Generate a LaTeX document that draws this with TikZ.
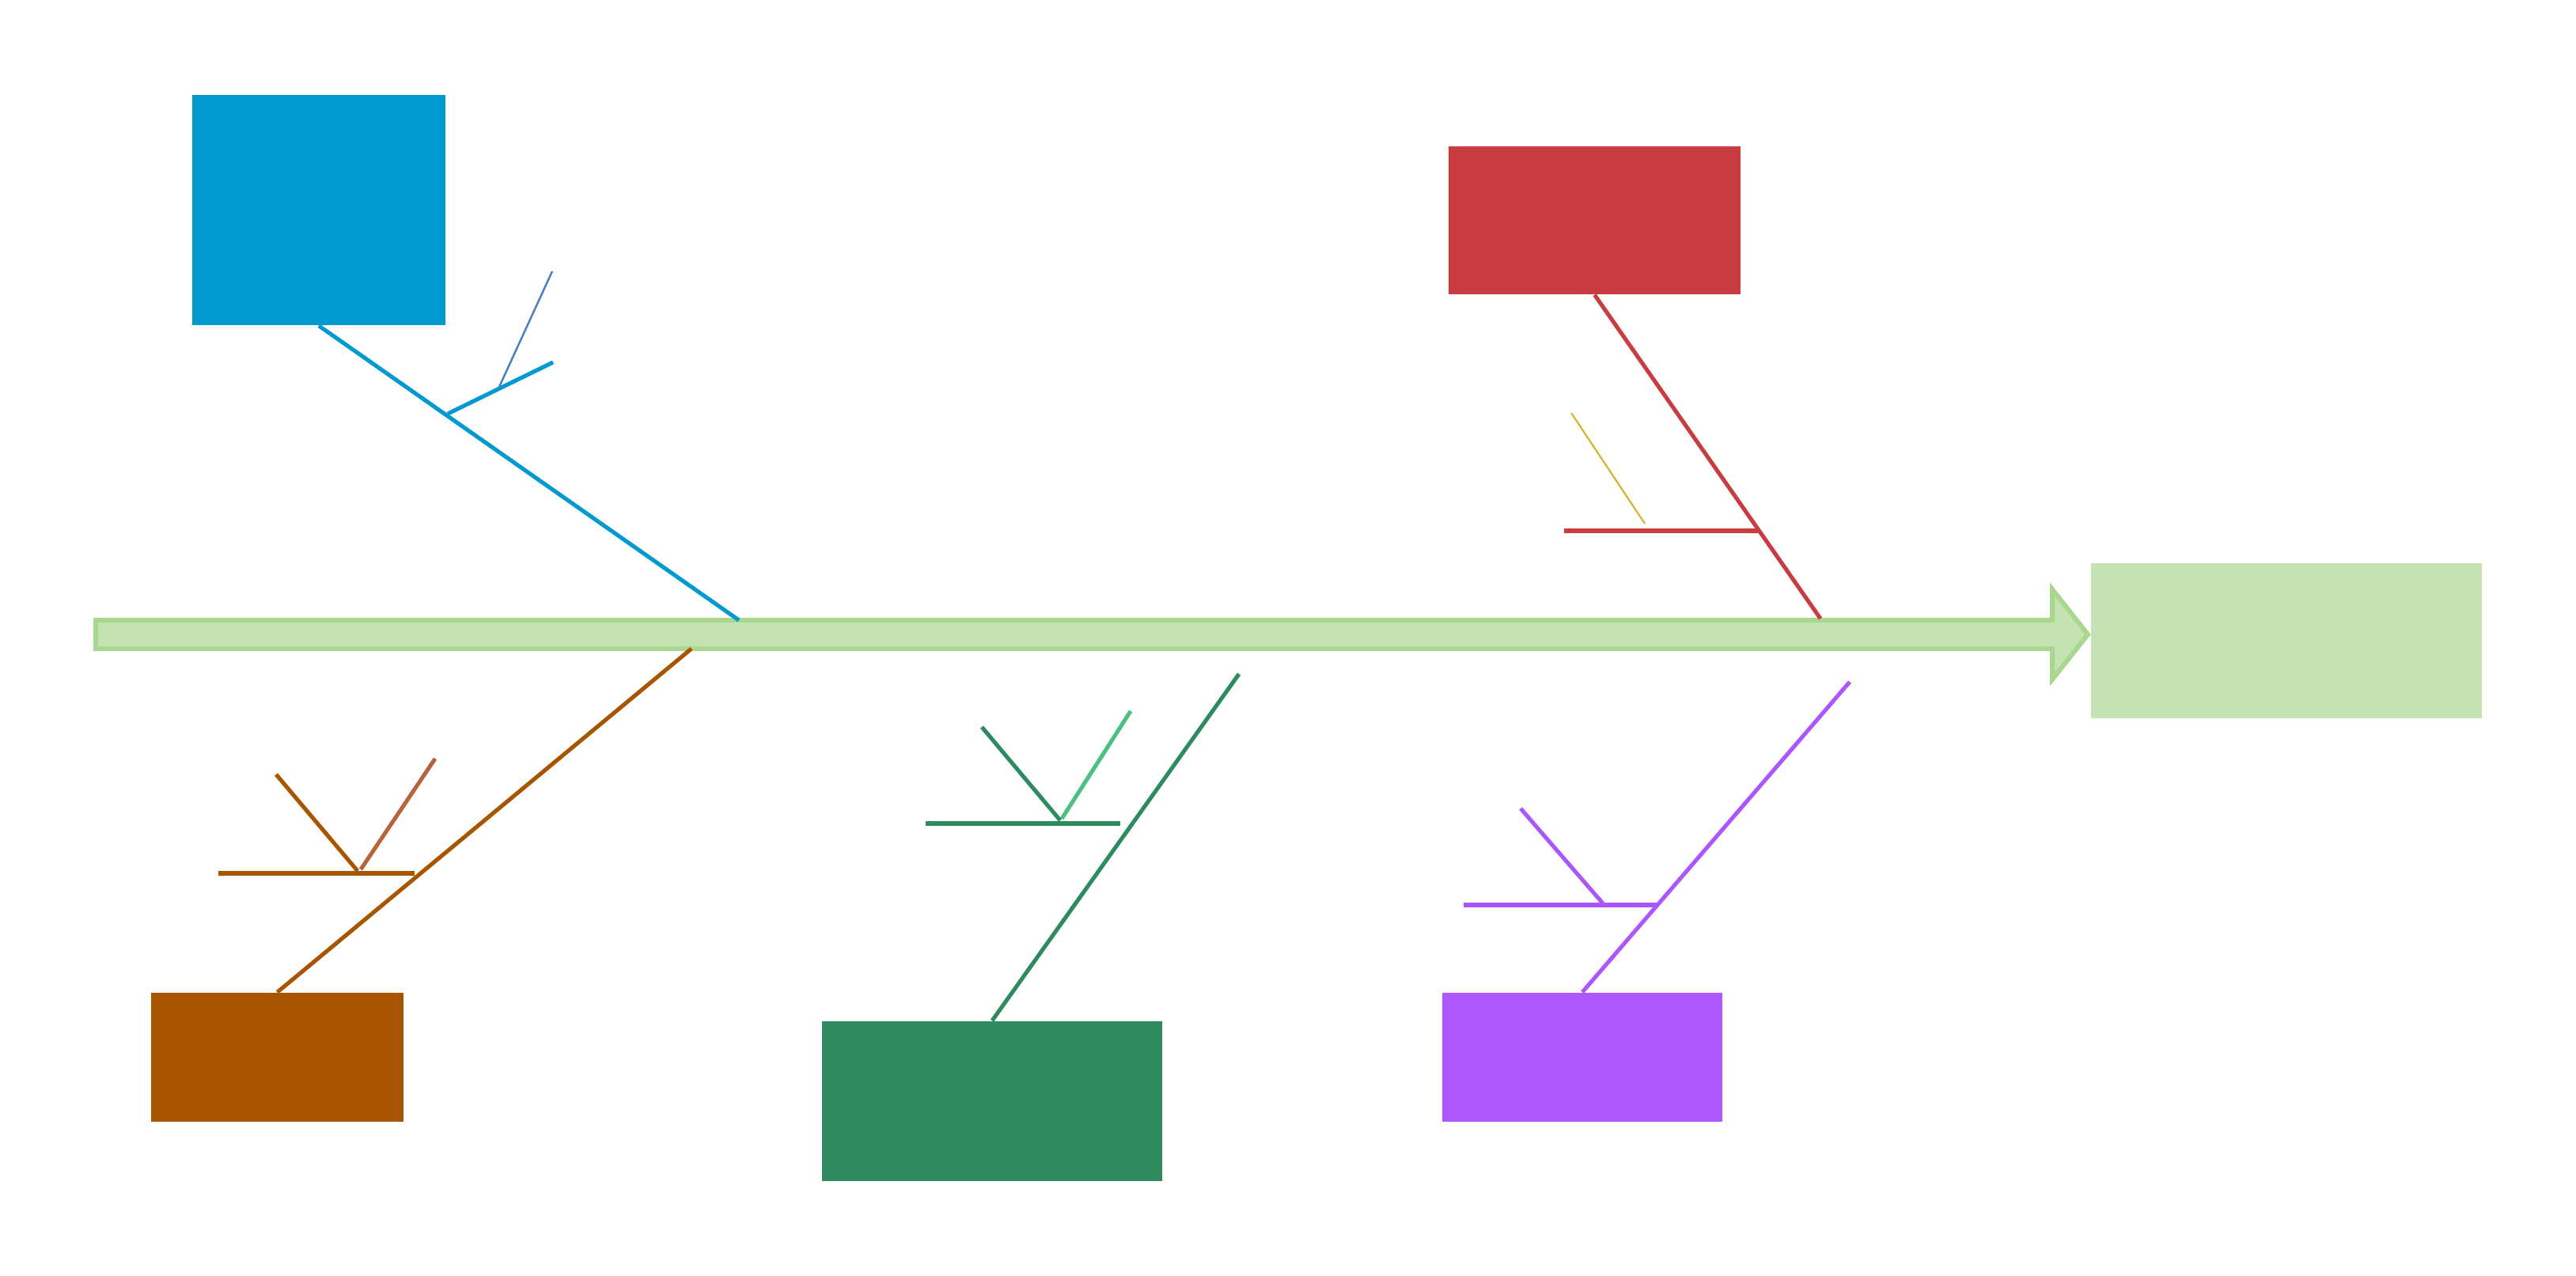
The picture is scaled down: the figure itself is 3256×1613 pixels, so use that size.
\documentclass[tikz,border=0pt]{standalone}
\definecolor{cBlue}{HTML}{0099D0}
\definecolor{cBlueThin}{HTML}{4A7FC2}
\definecolor{cRed}{HTML}{C93D40}
\definecolor{cGold}{HTML}{D4B02C}
\definecolor{cBrown}{HTML}{A85500}
\definecolor{cSienna}{HTML}{B5653D}
\definecolor{cSea}{HTML}{2E8B5E}
\definecolor{cSeaLight}{HTML}{4DBF85}
\definecolor{cPurple}{HTML}{AB57FD}
\definecolor{cSpineFill}{HTML}{C5E3B2}
\definecolor{cSpineLine}{HTML}{A8D78E}
\begin{document}
\begin{tikzpicture}[x=0.01cm,y=-0.01cm,
  catbox/.style={rectangle,inner sep=0pt,draw=none},
  bone/.style={line width=1.45pt},
  twig/.style={line width=1.45pt},
  fine/.style={line width=0.7pt}]
\useasboundingbox (0,0) rectangle (3256,1613);

% spine arrow
\filldraw[fill=cSpineFill,draw=cSpineLine,line width=1.7pt,line join=miter]
  (121,784) -- (2594,784) -- (2594,745) -- (2639,802) -- (2594,859) -- (2594,820) -- (121,820) -- cycle;

% boxes
\node[catbox,fill=cBlue,minimum width=3.20cm,minimum height=2.91cm] (blue) at (403,265.5) {};
\node[catbox,fill=cRed,minimum width=3.69cm,minimum height=1.87cm] (red) at (2015.5,278.5) {};
\node[catbox,fill=cSpineFill,minimum width=4.94cm,minimum height=1.96cm] (result) at (2890,810) {};
\node[catbox,fill=cBrown,minimum width=3.19cm,minimum height=1.63cm] (brown) at (350.5,1336.5) {};
\node[catbox,fill=cSea,minimum width=4.30cm,minimum height=2.02cm] (sea) at (1254,1392) {};
\node[catbox,fill=cPurple,minimum width=3.54cm,minimum height=1.63cm] (purple) at (2000,1336.5) {};

% spine attachment points
\coordinate (bJ) at (934,784);
\coordinate (rJ) at (2301,782);
\coordinate (brJ) at (874,820);
\coordinate (sJ) at (1566,852);
\coordinate (pJ) at (2338,862);

% main bones
\draw[bone,cBlue] (blue.south) -- (bJ);
\draw[bone,cRed] (red.south) -- (rJ);
\draw[bone,cBrown] (brJ) -- (brown.north);
\draw[bone,cSea] (sJ) -- (sea.north);
\draw[bone,cPurple] (pJ) -- (purple.north);

% blue sub-branches
\coordinate (b1) at (566,523);
\coordinate (b2) at (699,458);
\coordinate (b3) at (631,489);
\coordinate (b4) at (698,343);
\draw[twig,cBlue] (b1) -- (b2);
\draw[fine,cBlueThin] (b3) -- (b4);

% red sub-branches
\coordinate (r1) at (1977,671);
\coordinate (r2) at (2224,671);
\coordinate (r3) at (1986,522);
\coordinate (r4) at (2079,662);
\draw[twig,cRed] (r1) -- (r2);
\draw[line width=0.6pt,cGold] (r3) -- (r4);

% brown sub-branches
\coordinate (w1) at (276,1104);
\coordinate (w2) at (524,1104);
\coordinate (w3) at (349,979);
\coordinate (w4) at (452,1101);
\coordinate (w5) at (550,959);
\coordinate (w6) at (456,1099);
\draw[twig,cBrown] (w1) -- (w2);
\draw[twig,cBrown] (w3) -- (w4);
\draw[twig,cSienna] (w5) -- (w6);

% sea-green sub-branches
\coordinate (s1) at (1170,1041);
\coordinate (s2) at (1416,1041);
\coordinate (s3) at (1241,919);
\coordinate (s4) at (1340,1037);
\coordinate (s5) at (1429,899);
\coordinate (s6) at (1342,1035);
\draw[twig,cSea] (s1) -- (s2);
\draw[twig,cSea] (s3) -- (s4);
\draw[twig,cSeaLight] (s5) -- (s6);

% purple sub-branches
\coordinate (p1) at (1850,1144);
\coordinate (p2) at (2096,1144);
\coordinate (p3) at (1922,1022);
\coordinate (p4) at (2026,1142);
\draw[twig,cPurple] (p1) -- (p2);
\draw[twig,cPurple] (p3) -- (p4);
\end{tikzpicture}
\end{document}
